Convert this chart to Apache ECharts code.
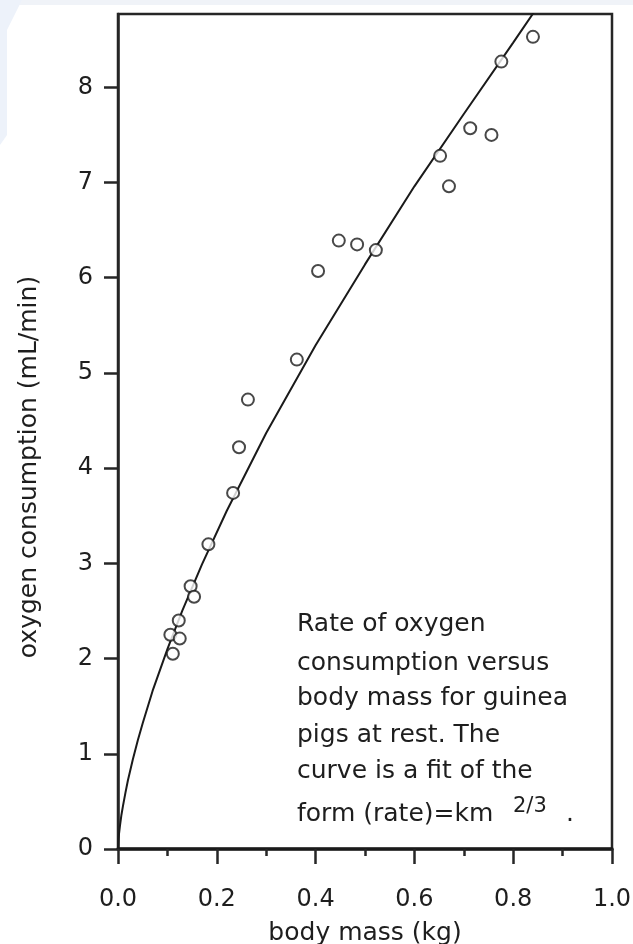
<!DOCTYPE html>
<html>
<head>
<meta charset="utf-8">
<script src="https://cdn.jsdelivr.net/npm/echarts@6/dist/echarts.min.js"></script>
<style>
html,body{margin:0;padding:0;background:#fff;}
#chart{width:633px;height:944px;}
</style>
</head>
<body>
<div id="chart"></div>
<script>
const massKg = [0.106, 0.111, 0.125, 0.123, 0.147, 0.154, 0.183, 0.233, 0.245, 0.263, 0.362, 0.405, 0.447, 0.484, 0.522, 0.652, 0.670, 0.713, 0.756, 0.776, 0.840];
const o2Rate = [2.25, 2.05, 2.21, 2.40, 2.76, 2.65, 3.20, 3.74, 4.22, 4.72, 5.14, 6.07, 6.39, 6.35, 6.29, 7.28, 6.96, 7.57, 7.50, 8.27, 8.53];

// Fitted curve (rate)=k m^(2/3)
const fitMass = [0, 0.001, 0.002, 0.004, 0.007, 0.01, 0.015, 0.02, 0.03, 0.04, 0.05, 0.07, 0.1, 0.13, 0.17, 0.22, 0.3, 0.4, 0.5, 0.6, 0.7, 0.8, 0.85];
const fitRate = [0, 0.10, 0.155, 0.245, 0.36, 0.45, 0.59, 0.72, 0.94, 1.14, 1.32, 1.66, 2.10, 2.50, 2.99, 3.55, 4.37, 5.29, 6.14, 6.96, 7.72, 8.47, 8.85];

const xTicks = [0, 0.2, 0.4, 0.6, 0.8, 1.0];
const yTicks = [0, 1, 2, 3, 4, 5, 6, 7, 8];

const noteLines = [
  'Rate of oxygen',
  'consumption versus',
  'body mass for guinea',
  'pigs at rest. The',
  'curve is a fit of the'
];
const noteLast = 'form (rate)=km';
const noteExp = '2/3';

const FONT = 'DejaVu Sans';
const INK = '#1e1e1e';
const LINE = '#262626';

const chart = echarts.init(document.getElementById('chart'), null, {renderer: 'canvas'});

const graphics = [
  {type: 'rect', shape: {x: 0, y: 0, width: 633, height: 5}, style: {fill: '#f0f3f8'}, silent: true},
  {type: 'polygon', shape: {points: [[0, 0], [22, 0], [7, 30], [7, 135], [0, 145]]}, style: {fill: '#edf2fa'}, silent: true},
  {type: 'text', x: 29, y: 467, rotation: Math.PI / 2,
   style: {text: 'oxygen consumption (mL/min)', font: '25px "' + FONT + '"', fill: INK, align: 'center', verticalAlign: 'middle'}}
];
const noteMid = [624, 663, 698, 735, 771];
noteLines.forEach((t, i) => {
  graphics.push({type: 'text', x: 297, y: noteMid[i],
    style: {text: t, font: '25px "' + FONT + '"', fill: INK, align: 'left', verticalAlign: 'middle'}});
});
graphics.push({type: 'text', x: 297, y: 814,
  style: {text: noteLast, font: '25px "' + FONT + '"', fill: INK, align: 'left', verticalAlign: 'middle'}});
graphics.push({type: 'text', x: 513, y: 807,
  style: {text: noteExp, font: '21px "' + FONT + '"', fill: INK, align: 'left', verticalAlign: 'middle'}});
graphics.push({type: 'text', x: 566, y: 814,
  style: {text: '.', font: '25px "' + FONT + '"', fill: INK, align: 'left', verticalAlign: 'middle'}});

const option = {
  animation: false,
  backgroundColor: '#ffffff',
  grid: {left: 118, right: 21, top: 14, bottom: 95, containLabel: false, outerBoundsMode: 'none',
         show: true, borderColor: LINE, borderWidth: 2.5, backgroundColor: 'transparent'},
  xAxis: {
    type: 'value', min: 0, max: 1, interval: 0.2,
    axisLine: {show: true, onZero: false, lineStyle: {color: '#1a1a1a', width: 3.5}},
    axisTick: {show: true, length: 15, customValues: xTicks, lineStyle: {color: LINE, width: 2.5}},
    minorTick: {show: true, splitNumber: 2, length: 7, lineStyle: {color: LINE, width: 2.5}},
    splitLine: {show: false},
    axisLabel: {customValues: xTicks, margin: 39, fontSize: 24, fontFamily: FONT, color: INK, formatter: v => v.toFixed(1)},
    name: 'body mass (kg)', nameLocation: 'middle', nameGap: 72,
    nameTextStyle: {fontSize: 25, fontFamily: FONT, color: INK}
  },
  yAxis: {
    type: 'value', min: 0, max: 8.77,
    axisLine: {show: true, onZero: false, lineStyle: {color: LINE, width: 2.5}},
    axisTick: {show: true, length: 14, customValues: yTicks, lineStyle: {color: LINE, width: 2.5}},
    splitLine: {show: false},
    axisLabel: {customValues: yTicks, margin: 25, fontSize: 24, fontFamily: FONT, color: INK}
  },
  series: [
    {
      type: 'line', data: fitMass.map((m, i) => [m, fitRate[i]]),
      showSymbol: false, symbol: 'none', smooth: false, clip: true,
      lineStyle: {color: '#1a1a1a', width: 2}, z: 2
    },
    {
      type: 'scatter', data: massKg.map((m, i) => [m, o2Rate[i]]),
      symbol: 'emptyCircle', symbolSize: 12,
      itemStyle: {color: '#1a1a1a', borderColor: '#1a1a1a', borderWidth: 3}, z: 3
    }
  ],
  graphic: graphics
};
chart.setOption(option);
</script>
</body>
</html>
